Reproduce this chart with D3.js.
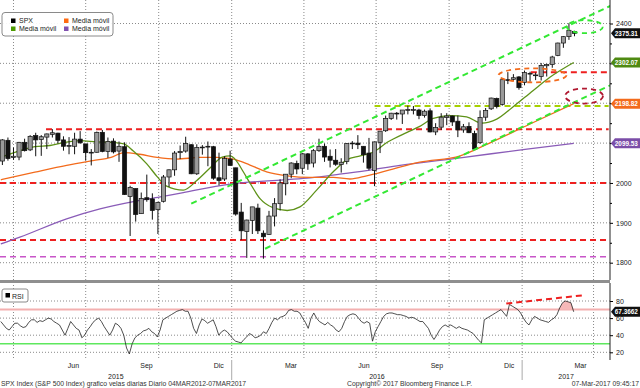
<!DOCTYPE html>
<html>
<head>
<meta charset="utf-8">
<script src="https://cdn.jsdelivr.net/npm/d3@7"></script>
<style>
  body { margin: 0; background: #fff; }
  svg { display: block; font-family: "Liberation Sans", Arial, sans-serif; }
</style>
</head>
<body>
<svg id="chart" width="640" height="388"></svg>
<script>
// ---- data ----
// weekly candles, one per week starting Mon 16-Mar-2015 through the week of 06-Mar-2017
const wOpen = [2055,2107,2064,2065,2102,2083,2119,2109,2115,2122,2125,2108,2092,2092,2110,2098,2075,2077,2127,2079,2105,2080,2091,1966,1986,1923,1963,1960,1933,1954,2015,2033,2076,2080,2096,2023,2090,2091,2091,2013,2010,2060,
  2038,1927,1878,1906,1937,1874,1871,1917,1948,1998,2022,2049,2037,2073,2050,2081,2092,2067,2057,2046,2054,2100,2100,2092,2075,2031,2102,2131,2162,2175,2173,2183,2184,2183,2169,2181,2128,2140,2164,2168,2155,2133,2142,2124,2101,2165,2186,2212,2197,2259,2260,2266,
  2252,2273,2270,2267,2294,2297,2320,2351,2367,2380];
const wHigh = [2110,2114,2089,2103,2111,2120,2126,2120,2124,2135,2126,2117,2115,2126,2130,2098,2085,2129,2133,2114,2112,2104,2102,1993,1986,1976,2021,1974,1953,2020,2034,2080,2094,2116,2097,2097,2095,2104,2093,2076,2067,2081,
  2038,1950,1908,1940,1948,1881,1930,1962,2009,2022,2052,2056,2075,2075,2085,2111,2099,2084,2085,2062,2100,2105,2120,2092,2113,2104,2130,2169,2176,2178,2183,2194,2193,2186,2184,2187,2150,2175,2175,2169,2169,2148,2152,2131,2182,2188,2214,2214,2260,2278,2273,2268,
  2282,2279,2277,2301,2299,2319,2352,2368,2401,2382];
const wLow = [2045,2056,2058,2057,2079,2080,2067,2068,2085,2114,2099,2081,2072,2072,2098,2056,2044,2076,2077,2063,2074,2053,1970,1867,1903,1923,1953,1908,1872,1951,1990,2018,2060,2076,2022,2020,2071,2042,2008,1994,2005,2043,
  1918,1857,1812,1872,1872,1810,1870,1891,1931,1969,2012,2022,2022,2033,2039,2078,2053,2039,2043,2026,2047,2085,2085,2051,2032,1992,2075,2128,2158,2159,2148,2172,2172,2160,2164,2127,2120,2133,2145,2143,2115,2126,2125,2084,2098,2156,2183,2187,2194,2248,2256,2234,
  2245,2254,2258,2257,2267,2289,2318,2339,2359,2368];
const wClose = [2108,2061,2067,2102,2081,2117,2108,2116,2123,2126,2107,2092,2094,2110,2101,2076,2077,2127,2079,2104,2078,2092,1971,1989,1921,1961,1958,1931,1951,2015,2033,2075,2079,2099,2023,2089,2090,2092,2012,2006,2061,2044,
  1922,1880,1907,1940,1880,1865,1917,1948,2000,2022,2050,2035,2073,2048,2081,2092,2065,2057,2047,2052,2099,2099,2096,2071,2037,2103,2130,2162,2175,2174,2183,2184,2184,2169,2180,2128,2139,2165,2168,2153,2133,2141,2126,2085,2164,2182,2213,2192,2259,2258,2264,2239,
  2277,2275,2271,2295,2297,2316,2351,2367,2383,2375.31];

// moving averages (sampled along the curves)
const maGreenDates = ["2015-03-16","2015-04-09","2015-04-28","2015-05-17","2015-06-05","2015-06-24","2015-07-15","2015-08-02","2015-08-18","2015-08-30","2015-09-16","2015-09-29","2015-10-11","2015-11-01","2015-11-18","2015-12-05","2015-12-20","2015-12-30","2016-01-06","2016-01-15","2016-01-24","2016-02-06","2016-02-22","2016-03-11","2016-03-27","2016-04-17","2016-05-08","2016-05-25","2016-06-11","2016-06-27","2016-07-15","2016-08-09","2016-08-25","2016-09-11","2016-10-02","2016-10-23","2016-11-11","2016-11-30","2016-12-20","2017-01-15","2017-02-05","2017-03-07"];
const maGreen = [2064,2081,2091,2094,2102,2106,2103,2102,2098,2080,2048,2016,1992,1982,2006,2038,2065,2068,2058,2030,2000,1960,1938,1931,1940,1982,2028,2058,2068,2077,2102,2127,2142,2162,2169,2166,2150,2160,2190,2232,2265,2302.07];

const maOrangeDates = ["2015-03-16","2015-04-28","2015-06-07","2015-07-10","2015-08-02","2015-08-18","2015-09-07","2015-09-29","2015-10-24","2015-11-22","2015-12-13","2016-01-03","2016-01-24","2016-02-14","2016-03-11","2016-04-09","2016-05-08","2016-05-29","2016-06-19","2016-07-22","2016-08-25","2016-10-15","2016-11-21","2017-01-11","2017-03-07"];
const maOrange = [2008,2027,2044,2056,2064,2076,2072,2064,2060,2064,2064,2060,2045,2028,2018,2014,2014,2010,2018,2035,2052,2068,2100,2148,2198.82];

const maPurpleDates = ["2015-03-16","2015-04-09","2015-06-07","2015-07-19","2015-08-30","2015-10-03","2015-11-01","2015-12-30","2016-03-06","2016-04-09","2016-05-16","2016-06-19","2016-07-31","2016-10-15","2017-01-07","2017-03-07"];
const maPurple = [1847,1864,1910,1935,1953,1965,1976,1997,2008,2013,2022,2031,2044,2063,2085,2099.53];

// RSI, two readings a week from 16-Mar-2015 to 07-Mar-2017
const rsiValues = [56,52,48,46,50,54,54,51,49,50,
  55,58,58,55,57,56,58,60,59,56,
  54,52,46,40,48,56,52,48,46,37,
  40,46,50,55,58,60,56,50,45,40,
  46,54,52,48,40,25,18,30,37,40,
  42,45,46,48,44,42,38,46,58,60,
  62,64,66,68,69,70,68,68,60,48,
  42,52,59,57,54,56,58,50,40,44,
  46,44,40,36,33,32,31,35,38,42,
  40,37,38,40,44,42,48,55,60,58,
  61,62,64,69,70,68,68,66,60,55,
  48,60,66,60,56,54,52,55,52,50,
  46,44,48,56,62,64,65,64,60,56,
  54,56,54,33,44,50,56,62,65,66,
  66,65,64,64,63,62,60,61,60,58,
  56,56,52,48,40,35,40,46,50,52,
  50,52,50,48,50,48,47,46,44,42,
  38,34,31,58,60,62,64,66,68,70,
  66,62,76,74,72,70,66,60,55,52,
  58,62,60,58,57,56,55,58,60,64,
  72,78,80,79,78,67.3662];

// tick labels that are not hidden behind the last-value flags
const priceTicks = [1800,1900,2000,2100,2200,2300,2400];
const priceLabels = [1800,1900,2000,2400];
const rsiTicks = [20,40,60,80];
const monthNames = ["Ene","Feb","Mar","Abr","May","Jun","Jul","Ago","Sep","Oct","Nov","Dic"];
const yearLabels = ["2015","2016","2017"];

// ---- layout ----
const svg = d3.select("#chart");
const plotRight = 610;
const parse = d3.timeParse("%Y-%m-%d");

const x = d3.scaleTime()
  .domain([new Date(2015, 2, 15), new Date(2017, 3, 23)])
  .range([0, 611]);
const y = d3.scaleLinear().domain([1800, 2400]).range([262.7, 23.5]);
const yR = d3.scaleLinear().domain([20, 80]).range([352.3, 301]);

const mainTop = 0, mainBottom = 280, rsiTop = 283, rsiBottom = 360;

svg.append("defs").call(defs => {
  defs.append("clipPath").attr("id", "clipMain")
    .append("rect").attr("x", 0).attr("y", mainTop).attr("width", plotRight).attr("height", mainBottom - mainTop);
  defs.append("clipPath").attr("id", "clipRsi")
    .append("rect").attr("x", 0).attr("y", rsiTop).attr("width", plotRight).attr("height", rsiBottom - rsiTop);
});

// vertical quarter gridlines through both panels
const quarters = d3.timeMonth.range(new Date(2015, 2, 15), new Date(2017, 3, 23)).filter(d => d.getMonth() % 3 === 0);
svg.append("g").selectAll("line").data(quarters).enter().append("line")
  .attr("x1", d => x(d)).attr("x2", d => x(d))
  .attr("y1", mainTop).attr("y2", rsiBottom)
  .attr("stroke", "#8a8a8a").attr("stroke-dasharray", "1,2");

// horizontal gridlines
svg.append("g").selectAll("line").data(priceTicks).enter().append("line")
  .attr("x1", 0).attr("x2", plotRight).attr("y1", d => y(d)).attr("y2", d => y(d))
  .attr("stroke", "#8a8a8a").attr("stroke-dasharray", "1,2");
svg.append("g").selectAll("line").data(rsiTicks).enter().append("line")
  .attr("x1", 0).attr("x2", plotRight).attr("y1", d => yR(d)).attr("y2", d => yR(d))
  .attr("stroke", "#8a8a8a").attr("stroke-dasharray", "1,2");

// ---- main panel ----
const main = svg.append("g").attr("clip-path", "url(#clipMain)");

// horizontal support / resistance levels drawn by the analyst
const axisEnd = new Date(2017, 3, 20);
const levels = [
  { price: 2278, from: "2017-01-12", color: "#ee2020", w: 2, dash: "6,4" },
  { price: 2134.7, from: "2015-05-12", color: "#ee2020", w: 2, dash: "6,4" },
  { price: 2000, from: "2015-03-15", color: "#ee2020", w: 2, dash: "6,4" },
  { price: 1857, from: "2015-03-15", color: "#ee2020", w: 2, dash: "6,4" },
  { price: 1815, from: "2015-03-15", color: "#c855c8", w: 1.6, dash: "6,4" },
  { price: 2193, from: "2016-06-29", color: "#a6d000", w: 1.8, dash: "6,4" }
];
main.append("g").selectAll("line").data(levels).enter().append("line")
  .attr("x1", d => x(parse(d.from))).attr("x2", x(axisEnd))
  .attr("y1", d => y(d.price)).attr("y2", d => y(d.price))
  .attr("stroke", d => d.color).attr("stroke-width", d => d.w).attr("stroke-dasharray", d => d.dash);

// moving averages
const maLine = d3.line().x(d => x(d[0])).y(d => y(d[1])).curve(d3.curveMonotoneX);
const mas = [
  { dates: maPurpleDates, vals: maPurple, color: "#8a5cb8" },
  { dates: maOrangeDates, vals: maOrange, color: "#f36b1c" },
  { dates: maGreenDates, vals: maGreen, color: "#5e9218" }
];
mas.forEach(m => {
  main.append("path")
    .datum(m.dates.map((d, i) => [parse(d), m.vals[i]]))
    .attr("fill", "none").attr("stroke", m.color).attr("stroke-width", 1.3)
    .attr("d", maLine);
});

// candles
const weeks = d3.timeMonday.range(new Date(2015, 2, 16), new Date(2017, 2, 7));
const candles = weeks.map((w, i) => ({
  date: d3.timeDay.offset(w, 2), o: wOpen[i], h: wHigh[i], l: wLow[i], c: wClose[i]
}));
const cg = main.append("g");
cg.selectAll("line").data(candles).enter().append("line")
  .attr("x1", d => x(d.date)).attr("x2", d => x(d.date))
  .attr("y1", d => y(d.h)).attr("y2", d => y(d.l))
  .attr("stroke", "#111").attr("stroke-width", 1);
cg.selectAll("rect").data(candles).enter().append("rect")
  .attr("x", d => x(d.date) - 2.1).attr("width", 4.2)
  .attr("y", d => y(Math.max(d.o, d.c)))
  .attr("height", d => Math.max(0.8, Math.abs(y(d.o) - y(d.c))))
  .attr("fill", d => d.c >= d.o ? "#9a9a9a" : "#111")
  .attr("stroke", "#111").attr("stroke-width", 0.7);

// trend channel
const channels = [
  [["2015-11-11", 1948], ["2017-04-22", 2444]],
  [["2016-02-12", 1835], ["2017-04-22", 2245]]
];
main.append("g").selectAll("line").data(channels).enter().append("line")
  .attr("x1", d => x(parse(d[0][0]))).attr("y1", d => y(d[0][1]))
  .attr("x2", d => x(parse(d[1][0]))).attr("y2", d => y(d[1][1]))
  .attr("stroke", "#33e833").attr("stroke-width", 2).attr("stroke-dasharray", "6,4");

// circled areas
const ellipses = [
  { date: "2017-03-21", price: 2392, rx: 18, ry: 6.5, color: "#33e833" },
  { date: "2017-03-20", price: 2218, rx: 19, ry: 7.5, color: "#b01830" },
  { date: "2017-01-14", price: 2270, rx: 34, ry: 7, color: "#f36b1c" }
];
main.append("g").selectAll("ellipse").data(ellipses).enter().append("ellipse")
  .attr("cx", d => x(parse(d.date))).attr("cy", d => y(d.price))
  .attr("rx", d => d.rx).attr("ry", d => d.ry)
  .attr("fill", "none").attr("stroke", d => d.color).attr("stroke-width", 1.8).attr("stroke-dasharray", "5,4");

// panel separator
svg.append("rect").attr("x", 0).attr("y", 280).attr("width", plotRight).attr("height", 3).attr("fill", "#8f8f8f");

// ---- RSI panel ----
const rsiStart = new Date(2015, 2, 16);
const rsiStep = 722 / (rsiValues.length - 1) * 864e5;
const rsiData = rsiValues.map((v, i) => [new Date(+rsiStart + i * rsiStep), v]);
const rsi = svg.append("g").attr("clip-path", "url(#clipRsi)");

rsi.append("line").attr("x1", 0).attr("x2", plotRight).attr("y1", yR(70)).attr("y2", yR(70))
  .attr("stroke", "#f3b0b0").attr("stroke-width", 2);
rsi.append("line").attr("x1", 0).attr("x2", plotRight).attr("y1", yR(30)).attr("y2", yR(30))
  .attr("stroke", "#5ee85e").attr("stroke-width", 1.5);

const overbought = rsiData.filter(d => d[0] >= new Date(2017, 0, 20));
rsi.append("path").datum(overbought)
  .attr("fill", "#f6b8b8")
  .attr("d", d3.area().x(d => x(d[0])).y0(yR(70)).y1(d => yR(Math.max(70, d[1]))));

rsi.append("path").datum(rsiData)
  .attr("fill", "none").attr("stroke", "#222").attr("stroke-width", 0.8)
  .attr("d", d3.line().x(d => x(d[0])).y(d => yR(d[1])));

rsi.append("line")
  .attr("x1", x(parse("2016-12-12"))).attr("y1", yR(77))
  .attr("x2", x(parse("2017-03-22"))).attr("y2", yR(87))
  .attr("stroke", "#ee2020").attr("stroke-width", 2).attr("stroke-dasharray", "6,4");

// ---- axes ----
const axisFont = g => g.selectAll("text").attr("font-size", 7).attr("fill", "#222")
  .attr("font-family", "'Liberation Sans', Arial, sans-serif");

const yAxis = svg.append("g").attr("transform", `translate(${plotRight},0)`)
  .call(d3.axisRight(y).tickValues(priceTicks).tickSize(3).tickPadding(3)
    .tickFormat(d => priceLabels.includes(d) ? d3.format("d")(d) : ""));
yAxis.select(".domain").attr("d", `M0,${mainTop}V${mainBottom}`).attr("stroke", "#222");
axisFont(yAxis);
svg.append("g").attr("transform", `translate(${plotRight},0)`)
  .call(d3.axisRight(y).tickValues([1850, 1950, 2050, 2150, 2250, 2350]).tickSize(2).tickFormat(""))
  .select(".domain").remove();

const rAxis = svg.append("g").attr("transform", `translate(${plotRight},0)`)
  .call(d3.axisRight(yR).tickValues(rsiTicks).tickSize(3).tickPadding(3));
rAxis.select(".domain").attr("d", `M0,${rsiTop}V${rsiBottom}`).attr("stroke", "#222");
axisFont(rAxis);

const es = d3.timeFormatLocale({
  dateTime: "%x %X", date: "%d/%m/%Y", time: "%H:%M:%S", periods: ["AM", "PM"],
  days: ["domingo","lunes","martes","miércoles","jueves","viernes","sábado"],
  shortDays: ["dom","lun","mar","mié","jue","vie","sáb"],
  months: ["enero","febrero","marzo","abril","mayo","junio","julio","agosto","septiembre","octubre","noviembre","diciembre"],
  shortMonths: monthNames
});
const monthTicks = d3.timeMonth.range(new Date(2015, 2, 15), new Date(2017, 3, 1))
  .filter(d => d.getMonth() % 3 === 2).map(d => d3.timeDay.offset(d, 14));
const xAxis = svg.append("g").attr("transform", `translate(0,${rsiBottom})`)
  .call(d3.axisBottom(x).tickValues(monthTicks).tickSize(0).tickPadding(3).tickFormat(es.format("%b")));
xAxis.select(".domain").remove();
axisFont(xAxis);

// year labels and year separators
const years = yearLabels.map(s => {
  const a = Math.max(0, x(new Date(+s, 0, 1)));
  const b = Math.min(plotRight, x(new Date(+s + 1, 0, 1)));
  return { s, cx: (a + b) / 2, start: x(new Date(+s, 0, 1)) };
});
svg.append("g").selectAll("text").data(years).enter().append("text")
  .attr("x", d => d.cx).attr("y", 379).attr("text-anchor", "middle")
  .attr("font-size", 7).attr("fill", "#222").text(d => d.s);
svg.append("g").selectAll("line").data(years.filter(d => d.start > 0)).enter().append("line")
  .attr("x1", d => d.start).attr("x2", d => d.start).attr("y1", rsiBottom).attr("y2", 380)
  .attr("stroke", "#aaa");

// ---- last-value flags on the right ----
const flags = [
  { v: 2375.31, s: "2375.31", color: "#111", scale: y },
  { v: 2302.07, s: "2302.07", color: "#4f8a12", scale: y },
  { v: 2198.82, s: "2198.82", color: "#f36b1c", scale: y },
  { v: 2099.53, s: "2099.53", color: "#7b4ea8", scale: y },
  { v: 67.3662, s: "67.3662", color: "#111", scale: yR }
];
const fg = svg.append("g").selectAll("g").data(flags).enter().append("g")
  .attr("transform", d => `translate(${plotRight + 1},${d.scale(d.v)})`);
fg.append("path").attr("d", "M0,0L4,-5H29V5H4Z").attr("fill", d => d.color);
fg.append("text").attr("x", 3.8).attr("y", 2.4).attr("font-size", 6.4).attr("font-weight", "bold")
  .attr("fill", "#fff").text(d => d.s);

// ---- legends ----
const leg = svg.append("g");
leg.append("rect").attr("x", 2).attr("y", 12.5).attr("width", 111).attr("height", 23.5).attr("rx", 3)
  .attr("fill", "#fff").attr("fill-opacity", 0.92).attr("stroke", "#8a8a8a");
const legItems = [
  { c: "#000", t: "SPX", lx: 11, ly: 18.5 },
  { c: "#ff6a10", t: "Media móvil", lx: 64, ly: 18.5 },
  { c: "#4d9a00", t: "Media móvil", lx: 11, ly: 26.5 },
  { c: "#8050b0", t: "Media móvil", lx: 64, ly: 26.5 }
];
leg.selectAll("g").data(legItems).enter().append("g").call(g => {
  g.append("rect").attr("x", d => d.lx).attr("y", d => d.ly).attr("width", 4.5).attr("height", 4.5).attr("fill", d => d.c);
  g.append("text").attr("x", d => d.lx + 8).attr("y", d => d.ly + 4.5).attr("font-size", 7).attr("fill", "#222").text(d => d.t);
});

svg.append("rect").attr("x", 2).attr("y", 289).attr("width", 26).attr("height", 13).attr("rx", 2)
  .attr("fill", "#fff").attr("stroke", "#8a8a8a");
svg.append("rect").attr("x", 5.5).attr("y", 293).attr("width", 4.5).attr("height", 4.5).attr("fill", "#000");
svg.append("text").attr("x", 12).attr("y", 298.5).attr("font-size", 7).attr("fill", "#222").text("RSI");

// ---- footer ----
const foot = svg.append("g").attr("font-size", 6.8).attr("fill", "#333");
foot.append("text").attr("x", 1).attr("y", 386).text("SPX Index (S&P 500 Index) grafico velas diarias  Diario 04MAR2012-07MAR2017");
foot.append("text").attr("x", 347).attr("y", 386).text("Copyright© 2017 Bloomberg Finance L.P.");
foot.append("text").attr("x", 639).attr("y", 386).attr("text-anchor", "end").text("07-Mar-2017 09:45:17");
</script>
</body>
</html>
